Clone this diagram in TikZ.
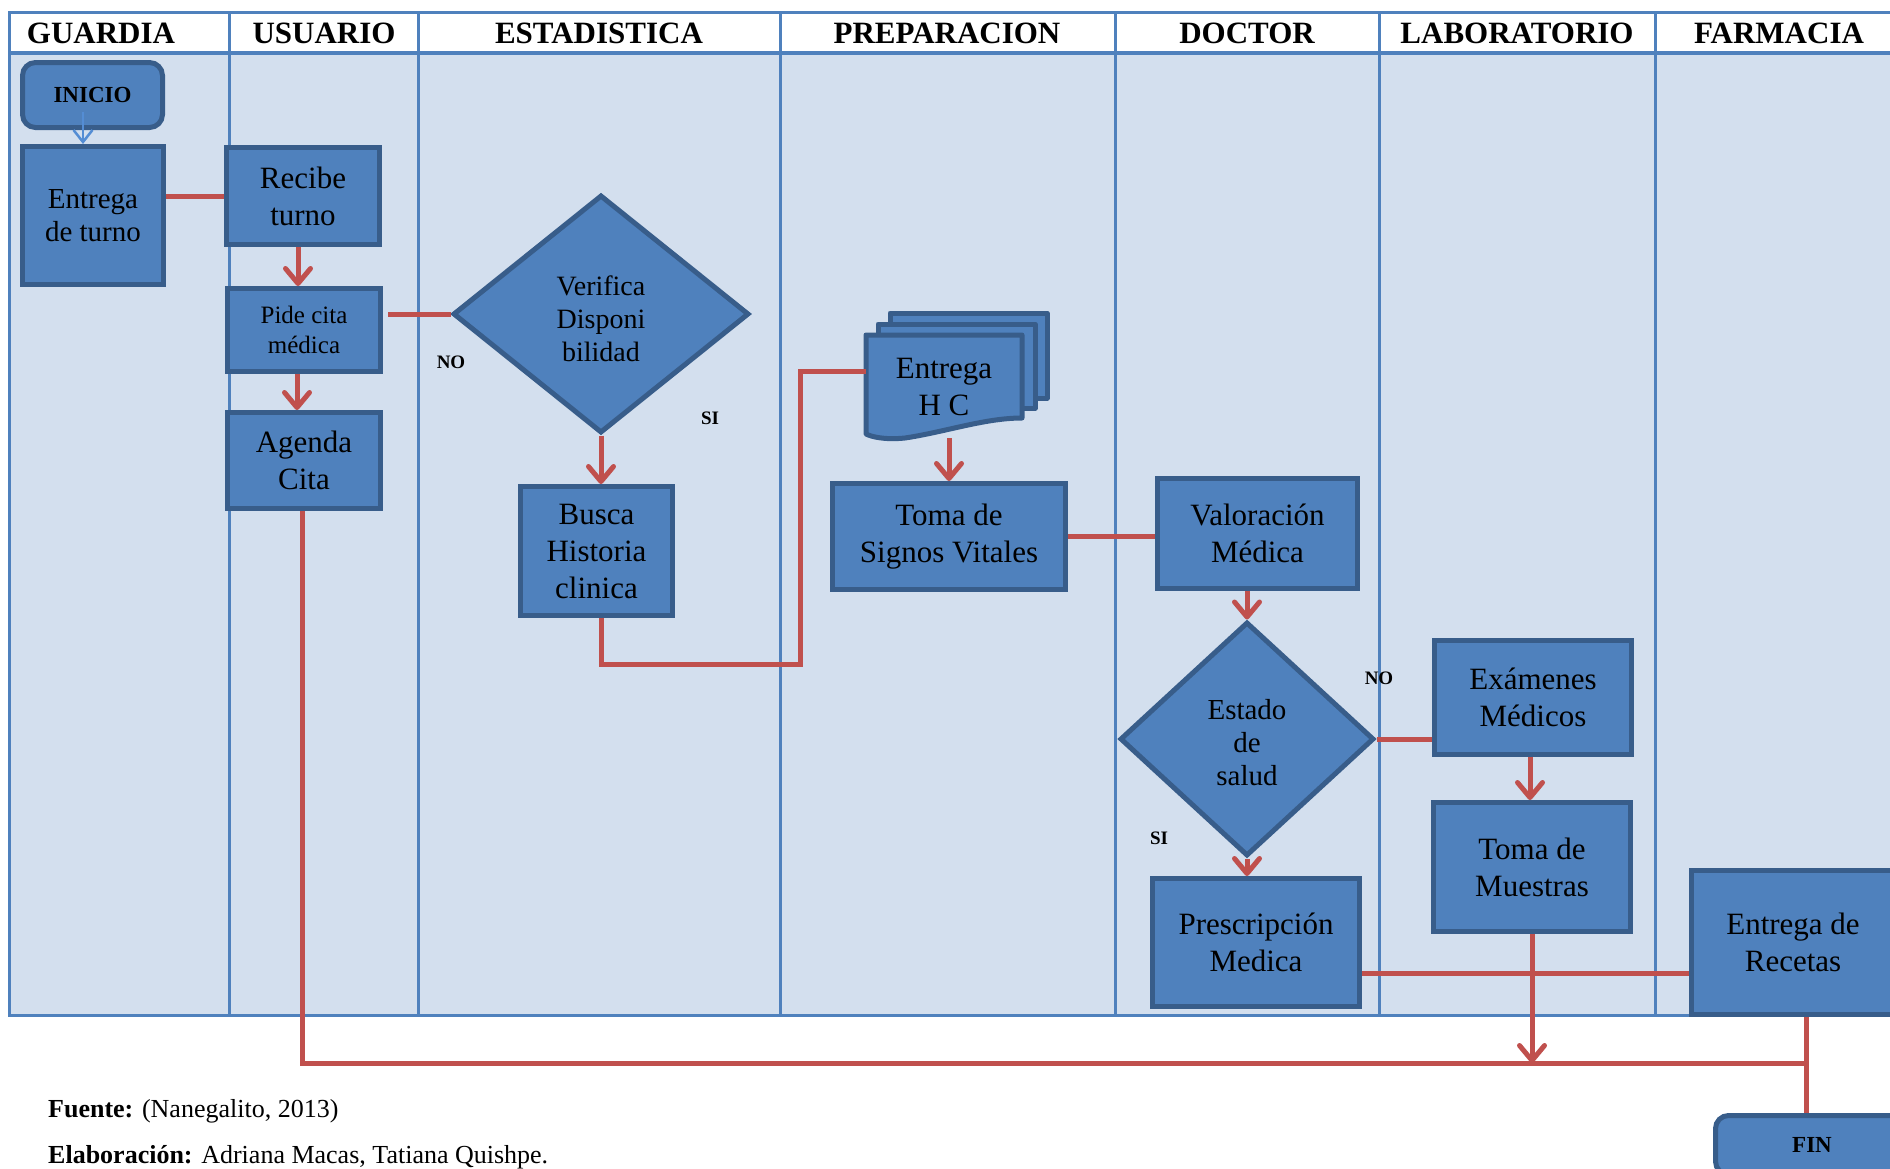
\documentclass[tikz,border=0pt]{standalone}
\usepackage{fontspec}
\setmainfont{Liberation Serif}
\usetikzlibrary{arrows.meta,shapes.geometric}

\definecolor{lane}{RGB}{211,223,238}
\definecolor{laneline}{RGB}{79,129,189}
\definecolor{boxfill}{RGB}{79,129,189}
\definecolor{boxline}{RGB}{56,93,138}
\definecolor{flow}{RGB}{192,80,77}
\definecolor{thinarrow}{RGB}{84,141,212}

\newcommand{\fsz}[2]{\fontsize{#1}{#2}\selectfont}

\tikzset{
  lanehead/.style={font=\bfseries\fsz{31}{36}, inner sep=0pt},
  proc/.style={draw=boxline, fill=boxfill, line width=5pt, inner sep=0pt,
               align=center, font=\fsz{31}{37}},
  term/.style={proc, rounded corners=13pt, font=\bfseries\fsz{23}{27}},
  decision/.style={diamond, draw=boxline, fill=boxfill, line width=5pt, inner sep=0pt},
  dtext/.style={align=center, inner sep=0pt, font=\fsz{28}{33}},
  pagefill/.style={draw=boxline, fill=boxfill, line width=5pt, line join=round},
  lbl/.style={font=\bfseries\fsz{19}{22}, inner sep=0pt},
  flowline/.style={draw=flow, line width=5pt},
  flowarrow/.style={flowline, -{Straight Barb[length=15pt,width=25pt,line cap=round,line join=round]}},
  startarrow/.style={draw=thinarrow, line width=2.5pt, -{Straight Barb[length=12pt,width=19pt]}}
}

\begin{document}
\begin{tikzpicture}[x=1pt,y=-1pt]
\useasboundingbox (0,0) rectangle (1890,1168);
\clip (0,0) rectangle (1890,1168);
\fill[white] (0,0) rectangle (1890,1168);

% swimlane table
\fill[lane] (9,53) rectangle (1905,1015);
\draw[laneline, line width=3pt] (9,12) rectangle (1905,1015);
\draw[laneline, line width=4pt] (9,53) -- (1905,53);
\foreach \x in {229,418,780,1115,1379,1655}
  \draw[laneline, line width=3pt] (\x,12) -- (\x,1015);

% lane titles
\node[lanehead] (hguardia) at (101,33) {GUARDIA};
\node[lanehead] (husuario) at (324,33) {USUARIO};
\node[lanehead] (hestad)   at (599,33) {ESTADISTICA};
\node[lanehead] (hprep)    at (947,33) {PREPARACION};
\node[lanehead] (hdoctor)  at (1247,33) {DOCTOR};
\node[lanehead] (hlab)     at (1517,33) {LABORATORIO};
\node[lanehead] (hfarm)    at (1779,33) {FARMACIA};

% GUARDIA
\node[term, minimum width=140, minimum height=65] (inicio) at (92.5,95) {INICIO};
\node[proc, minimum width=141, minimum height=138, font=\fsz{29}{33}] (entt) at (93,215.5) {Entrega\\de turno};

% USUARIO
\node[proc, minimum width=153, minimum height=97] (recibe) at (303,196) {Recibe\\turno};
\node[proc, minimum width=153, minimum height=83, font=\fsz{25}{30}] (pide) at (304,330) {Pide cita\\médica};
\node[proc, minimum width=153, minimum height=96] (agenda) at (304,460.5) {Agenda\\Cita};

% ESTADISTICA
\node[decision, minimum width=296, minimum height=238] (verif) at (601,314) {};
\node[dtext] (veriftxt) at ([yshift=-5pt]verif.center) {Verifica\\Disponi\\bilidad};
\node[proc, minimum width=152, minimum height=129] (busca) at (596.5,551) {Busca\\Historia\\clinica};

% PREPARACION: stacked documents
\draw[pagefill] (890,313) rectangle (1047,398);
\draw[pagefill] (878,324) rectangle (1035,408);
\draw[pagefill] (866,335) -- (1022,335) -- (1022,418)
  .. controls (985,418) and (945,432) .. (905,438)
  .. controls (885,440) and (872,437) .. (866,434) -- cycle;
\node[minimum width=156, minimum height=102, inner sep=0pt, align=center, font=\fsz{31}{37}] (hc) at (944,387) {Entrega\\H C};
\node[proc, minimum width=233, minimum height=106] (signos) at (949,536.5) {Toma de\\Signos Vitales};

% DOCTOR
\node[proc, minimum width=200, minimum height=110] (valor) at (1257.5,533.5) {Valoración\\Médica};
\node[decision, minimum width=254, minimum height=234] (estado) at (1247,739) {};
\node[dtext, font=\fsz{29}{33}] (estadotxt) at ([yshift=-4pt]estado.center) {Estado\\de\\salud};
\node[proc, minimum width=207, minimum height=128] (presc) at (1256,942.5) {Prescripción\\Medica};

% LABORATORIO
\node[proc, minimum width=197, minimum height=114] (exam) at (1533,697.5) {Exámenes\\Médicos};
\node[proc, minimum width=197, minimum height=129] (muestras) at (1532,867) {Toma de\\Muestras};

% FARMACIA
\node[proc, minimum width=203, minimum height=144] (recetas) at (1793,942.5) {Entrega de\\Recetas};
\node[term, minimum width=193, minimum height=59] (fin) at (1812,1145) {FIN};

% decision labels
\node[lbl] (no1) at (451,362) {NO};
\node[lbl] (si1) at (710,418) {SI};
\node[lbl] (no2) at (1379,678) {NO};
\node[lbl] (si2) at (1159,838) {SI};

% connectors
\coordinate (k1) at (800,664);
\coordinate (j) at (1806,1063);

\draw[startarrow] ([xshift=-9.5pt,yshift=18pt]inicio.south) -- ([xshift=-10pt]entt.north);
\draw[flowline] (entt.east |- recibe.west) -- (recibe.west);
\draw[flowarrow] ([xshift=-5pt]recibe.south) -- ([xshift=-6pt]pide.north);
\draw[flowarrow] ([xshift=-7pt]pide.south) -- ([xshift=-7pt]agenda.north);
\draw[flowline] ([xshift=5pt]pide.east |- verif.west) -- (verif.west);
\draw[flowarrow] (verif.south) -- (verif.south |- busca.north);
\draw[flowline] ([xshift=5pt]busca.south) |- (k1) |- ([yshift=16pt]hc.west);
\draw[flowarrow] (signos.north |- hc.south) -- (signos.north);
\draw[flowline] (signos.east) -- (signos.east -| valor.west);
\draw[flowarrow] (estado.north |- valor.south) -- (estado.north);
\draw[flowarrow] (estado.south) -- (estado.south |- presc.north);
\draw[flowline] (estado.east) -- (estado.east -| exam.west);
\draw[flowarrow] ([xshift=-3pt]exam.south) -- ([xshift=-2pt]muestras.north);
\draw[flowline] ([yshift=-31pt]presc.east) -- ([yshift=-31pt]presc.east -| recetas.west);
\draw[flowline] ([xshift=-2pt]agenda.south) |- (j);
\draw[flowline] (recetas.south -| j) -- (fin.north -| j);
\draw[flowarrow] (muestras.south) -- (muestras.south |- j);

% source notes
\node[anchor=west, inner sep=0pt, font=\fsz{26}{30}] (fuente) at (48,1111) {\textbf{Fuente:} (Nanegalito, 2013)};
\node[anchor=west, inner sep=0pt, font=\fsz{26}{30}] (elab) at (48,1157) {\textbf{Elaboración:} Adriana Macas, Tatiana Quishpe.};
\end{tikzpicture}
\end{document}
